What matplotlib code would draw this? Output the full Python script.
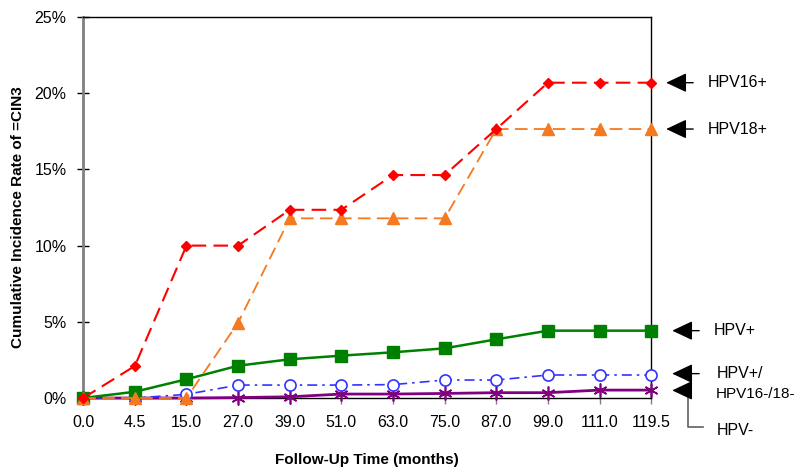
import numpy as np
import matplotlib
matplotlib.use("Agg")
import matplotlib.pyplot as plt

plt.rcParams['font.family'] = ['Liberation Sans', 'DejaVu Sans']

# follow-up time categories (months)
months = ["0.0", "4.5", "15.0", "27.0", "39.0", "51.0", "63.0", "75.0", "87.0", "99.0", "111.0", "119.5"]

# cumulative incidence (%)
hpv16 = [0.0, 2.1, 10.0, 10.0, 12.35, 12.35, 14.63, 14.63, 17.65, 20.69, 20.69, 20.69]
hpv18 = [0.0, 0.0, 0.0, 4.94, 11.79, 11.79, 11.79, 11.79, 17.65, 17.65, 17.65, 17.65]
hpv_pos = [0.0, 0.41, 1.23, 2.12, 2.54, 2.78, 3.0, 3.26, 3.85, 4.42, 4.42, 4.42]
hpv_other = [0.0, 0.0, 0.24, 0.85, 0.85, 0.85, 0.88, 1.18, 1.18, 1.51, 1.51, 1.51]
hpv_neg = [0.0, 0.0, 0.0, 0.03, 0.08, 0.26, 0.26, 0.3, 0.35, 0.35, 0.52, 0.52]

x = np.arange(len(months))

fig = plt.figure(figsize=(8, 4.74), dpi=100)
ax = fig.add_axes([0.104, 0.1603, 0.710, 0.8038])

ax.plot(x, hpv_neg, color="#800080", lw=2, marker=(6, 2, 0), ms=10, mew=1.2, clip_on=False, zorder=3)
ax.plot(x, hpv_other, color="#3333FF", lw=1.2, ls=(0, (6, 3, 1.5, 3)), marker="o", ms=8,
        mfc="white", mec="#3333FF", mew=1.2, clip_on=False, zorder=4)
ax.plot(x, hpv_pos, color="#008000", lw=1.8, marker="s", ms=9, clip_on=False, zorder=5)
ax.plot(x, hpv18, color="#F57920", lw=1.3, ls=(0, (7, 3.5)), marker="^", ms=8, clip_on=False, zorder=6)
ax.plot(x, hpv16, color="#FF0000", lw=1.5, ls=(0, (7, 3.5)), marker="D", ms=5, clip_on=False, zorder=7)

ax.set_xlim(0, len(months) - 1)
ax.set_ylim(0, 25)
ax.set_xticks(x)
ax.set_xticklabels(months)
ax.set_yticks([0, 5, 10, 15, 20, 25])
ax.set_yticklabels(["0%", "5%", "10%", "15%", "20%", "25%"])
ax.tick_params(axis="both", direction="inout", length=8, width=1, labelsize=11.5, pad=8)
ax.tick_params(axis="x", colors="#808080", labelcolor="black")

ax.spines["left"].set_color("#808080")
ax.spines["left"].set_linewidth(2)
for s in ["top", "right", "bottom"]:
    ax.spines[s].set_color("black")
    ax.spines[s].set_linewidth(1)

ax.set_xlabel("Follow-Up Time (months)", fontsize=11, fontweight="bold", labelpad=17)
fig.text(18 / 800, 1 - 217 / 474, "Cumulative Incidence Rate of =CIN3", fontsize=11,
         fontweight="bold", rotation=90, ha="center", va="center")

# right-hand labels with arrows
tr = ax.get_yaxis_transform()


def fx(px):
    return (px - 83) / 568.0


def pointer(y, tip, tail, text, tx, ty=None):
    ax.annotate("", xy=(fx(tip), y), xytext=(fx(tail), y), xycoords=tr, textcoords=tr,
                arrowprops=dict(arrowstyle="-|>,head_length=0.7,head_width=0.33", mutation_scale=18,
                                color="black", lw=1.0, shrinkA=0, shrinkB=0), annotation_clip=False)
    if text:
        ax.text(fx(tx), y if ty is None else ty, text, transform=tr, fontsize=11.5,
                va="center", ha="left", clip_on=False)


pointer(20.69, 666, 693, "HPV16+", 708)
pointer(17.65, 666, 693, "HPV18+", 708)
pointer(4.42, 672, 699, "HPV+", 714)
pointer(1.6, 672, 699, "HPV+/", 717)
ax.text(fx(716), 0.25, "HPV16-/18-", transform=tr, fontsize=11, va="center", ha="left", clip_on=False)
pointer(0.5, 672, 688, None, 0)
ax.plot([fx(688), fx(688), fx(703)], [0.5, -1.9, -1.9], transform=tr, color="#606060",
        lw=1.2, clip_on=False)
ax.text(fx(717), -2.1, "HPV-", transform=tr, fontsize=11.5, va="center", ha="left", clip_on=False)

fig.savefig("out.png", dpi=100)
